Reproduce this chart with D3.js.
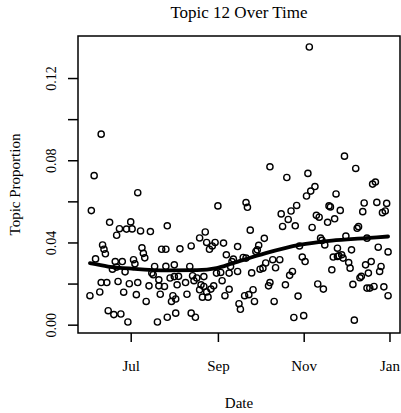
<!DOCTYPE html>
<meta charset="utf-8">

<head>
  <script src="https://d3js.org/d3.v7.min.js"></script>
  <style>
    html,
    body {
      margin: 0;
      background: #fff;
    }

    text {
      font-family: "Liberation Serif", "DejaVu Serif", serif;
      fill: #000;
    }
  </style>
</head>

<body>
  <div class="chart"></div>
</body>
<script>
  // day offsets from 1 Jul 2012, one entry per document date
  const baseDate = new Date(2012, 6, 1)

  const days = [-29, -28, -26, -25, -22, -21, -21, -20, -19, -18, -17, -16, -15, -13, -12, -11, -10, -10, -9, -8,
    -7, -6, -5, -4, -3, -2, -1, 0, 1, 2, 3, 4, 5, 5, 7, 8, 9, 10, 11, 13,
    14, 15, 16, 17, 19, 20, 20, 21, 22, 24, 25, 25, 26, 26, 28, 30, 29, 31, 31, 32,
    32, 33, 35, 34, 39, 40, 42, 43, 43, 44, 45, 47, 46, 49, 49, 50, 51, 52, 52, 53,
    54, 54, 55, 56, 57, 58, 59, 60, 61, 62, 64, 65, 66, 67, 68, 70, 70, 71, 72, 73,
    76, 76, 77, 78, 80, 81, 82, 82, 83, 84, 85, 86, 87, 88, 89, 90, 91, 92, 94, 95,
    96, 98, 99, 99, 101, 102, 103, 106, 107, 108, 110, 111, 112, 113, 114, 115, 116, 117, 118, 119,
    120, 122, 123, 124, 125, 126, 127, 128, 129, 131, 132, 133, 134, 135, 136, 137, 138, 140, 141, 142,
    143, 144, 145, 146, 147, 147, 148, 149, 150, 151, 152, 153, 155, 156, 157, 158, 159, 160, 161, 162,
    163, 164, 165, 166, 167, 168, 168, 169, 170, 171, 172, 173, 174, 175, 176, 177, 178, 179, 180, 181,
    182, 183, 183]

  const proportions = [0.0141, 0.0555, 0.0725, 0.0320, 0.0159, 0.0927, 0.0205, 0.0388, 0.0367, 0.0345, 0.0205, 0.0068, 0.0498, 0.0270, 0.0049, 0.0307, 0.0435, 0.0280, 0.0210, 0.0467,
    0.0052, 0.0307, 0.0158, 0.0257, 0.0465, 0.0013, 0.0199, 0.0500, 0.0466, 0.0316, 0.0296, 0.0146, 0.0205, 0.0642, 0.0456, 0.0374, 0.0347, 0.0325, 0.0113, 0.0189,
    0.0453, 0.0251, 0.0243, 0.0283, 0.0013, 0.0218, 0.0189, 0.0148, 0.0367, 0.0186, 0.0367, 0.0284, 0.0036, 0.0481, 0.0227, 0.0141, 0.0113, 0.0291, 0.0234, 0.0125,
    0.0056, 0.0194, 0.0369, 0.0235, 0.0205, 0.0148, 0.0283, 0.0383, 0.0056, 0.0238, 0.0214, 0.0227, 0.0036, 0.0422, 0.0170, 0.0194, 0.0134, 0.0234, 0.0186, 0.0451,
    0.0159, 0.0400, 0.0134, 0.0367, 0.0173, 0.0383, 0.0189, 0.0400, 0.0251, 0.0578, 0.0254, 0.0214, 0.0397, 0.0141, 0.0340, 0.0251, 0.0172, 0.0283, 0.0307, 0.0319,
    0.0259, 0.0380, 0.0102, 0.0075, 0.0327, 0.0141, 0.0324, 0.0594, 0.0571, 0.0146, 0.0460, 0.0252, 0.0170, 0.0113, 0.0356, 0.0364, 0.0386, 0.0270, 0.0275, 0.0420,
    0.0300, 0.0189, 0.0205, 0.0768, 0.0316, 0.0113, 0.0277, 0.0316, 0.0539, 0.0478, 0.0194, 0.0716, 0.0512, 0.0240, 0.0553, 0.0259, 0.0035, 0.0481, 0.0580, 0.0139,
    0.0383, 0.0329, 0.0044, 0.0307, 0.0626, 0.0736, 0.1351, 0.0650, 0.0473, 0.0672, 0.0532, 0.0198, 0.0523, 0.0421, 0.0410, 0.0173, 0.0388, 0.0498, 0.0578, 0.0573,
    0.0267, 0.0329, 0.0515, 0.0636, 0.0332, 0.0372, 0.0335, 0.0556, 0.0340, 0.0324, 0.0820, 0.0431, 0.0302, 0.0275, 0.0364, 0.0196, 0.0022, 0.0760, 0.0469, 0.0477,
    0.0228, 0.0235, 0.0550, 0.0592, 0.0291, 0.0178, 0.0421, 0.0251, 0.0178, 0.0307, 0.0684, 0.0186, 0.0694, 0.0595, 0.0377, 0.0259, 0.0283, 0.0545, 0.0184, 0.0553,
    0.0590, 0.0354, 0.0141]

  // smoothed trend
  const trendDays = [-29, -16, 2, 26, 47, 61, 73, 96, 120, 143, 167, 183]
  const trendVals = [0.0299, 0.0283, 0.0272, 0.0264, 0.0265, 0.0275, 0.0300, 0.0348, 0.0388, 0.0409, 0.0421, 0.0429]

  const yTicks = [0, 0.02, 0.04, 0.06, 0.08, 0.10, 0.12]
  const yLabels = [0, 0.04, 0.08, 0.12]

  const width = 401,
    height = 413
  const margin = { top: 36, right: 1, bottom: 80, left: 78 }

  const points = days.map((d, i) => ({ date: d3.timeDay.offset(baseDate, d), value: proportions[i] }))
  const trend = trendDays.map((d, i) => ({ date: d3.timeDay.offset(baseDate, d), value: trendVals[i] }))

  // R style 4% padding on both axes
  function pad(ext) {
    let r = ext[1] - ext[0]
    return [ext[0] - r * 0.04, ext[1] + r * 0.04]
  }

  let xExt = pad(d3.extent(points, d => +d.date))
  let yExt = pad(d3.extent(points, d => d.value))

  let x = d3.scaleTime()
    .domain([new Date(xExt[0]), new Date(xExt[1])])
    .range([margin.left, width - margin.right])
  let y = d3.scaleLinear()
    .domain(yExt)
    .range([height - margin.bottom, margin.top])

  let svg = d3.select(".chart").append("svg")
    .attr("width", width)
    .attr("height", height)

  // title
  svg.append("text")
    .attr("x", (margin.left + width - margin.right) / 2)
    .attr("y", 18)
    .attr("text-anchor", "middle")
    .style("font-size", "17px")
    .text("Topic 12 Over Time")

  // points
  svg.append("g")
    .selectAll("circle")
    .data(points)
    .enter().append("circle")
    .attr("cx", d => x(d.date))
    .attr("cy", d => y(d.value))
    .attr("r", 3.1)
    .attr("fill", "none")
    .attr("stroke", "#000")
    .attr("stroke-width", 1.4)

  // trend line
  let line = d3.line()
    .x(d => x(d.date))
    .y(d => y(d.value))
    .curve(d3.curveMonotoneX)
  svg.append("path")
    .datum(trend)
    .attr("d", line)
    .attr("fill", "none")
    .attr("stroke", "#000")
    .attr("stroke-width", 3.8)
    .attr("stroke-linecap", "round")

  // box
  svg.append("rect")
    .attr("x", margin.left)
    .attr("y", margin.top)
    .attr("width", width - margin.right - margin.left)
    .attr("height", height - margin.bottom - margin.top)
    .attr("fill", "none")
    .attr("stroke", "#000")
    .attr("stroke-width", 1.5)

  // x axis
  let xAxis = d3.axisBottom(x)
    .ticks(d3.timeMonth.every(2))
    .tickFormat(d3.timeFormat("%b"))
    .tickSize(9)
    .tickPadding(18)
  let gx = svg.append("g")
    .attr("transform", "translate(0," + (height - margin.bottom) + ")")
    .call(xAxis)
  gx.select(".domain").remove()
  gx.selectAll("line").attr("stroke", "#000").attr("stroke-width", 1.5)
  gx.selectAll("text")
    .style("font-size", "15px")
    .style("font-family", "Liberation Serif")

  // y axis
  let yAxis = d3.axisLeft(y)
    .tickValues(yTicks)
    .tickSize(10)
    .tickFormat(d => yLabels.includes(d) ? d3.format(".2f")(d) : "")
  let gy = svg.append("g")
    .attr("transform", "translate(" + margin.left + ",0)")
    .call(yAxis)
  gy.select(".domain").remove()
  gy.selectAll("line").attr("stroke", "#000").attr("stroke-width", 1.5)
  gy.selectAll("text")
    .attr("x", null)
    .attr("dy", null)
    .attr("transform", "translate(-22,0) rotate(-90)")
    .attr("text-anchor", "middle")
    .style("font-size", "14px")
    .style("font-family", "Liberation Serif")

  // axis titles
  svg.append("text")
    .attr("x", (margin.left + width - margin.right) / 2)
    .attr("y", 408)
    .attr("text-anchor", "middle")
    .style("font-size", "15px")
    .text("Date")

  svg.append("text")
    .attr("transform", "translate(20," + ((margin.top + height - margin.bottom) / 2) + ") rotate(-90)")
    .attr("text-anchor", "middle")
    .style("font-size", "15px")
    .text("Topic Proportion")
</script>
